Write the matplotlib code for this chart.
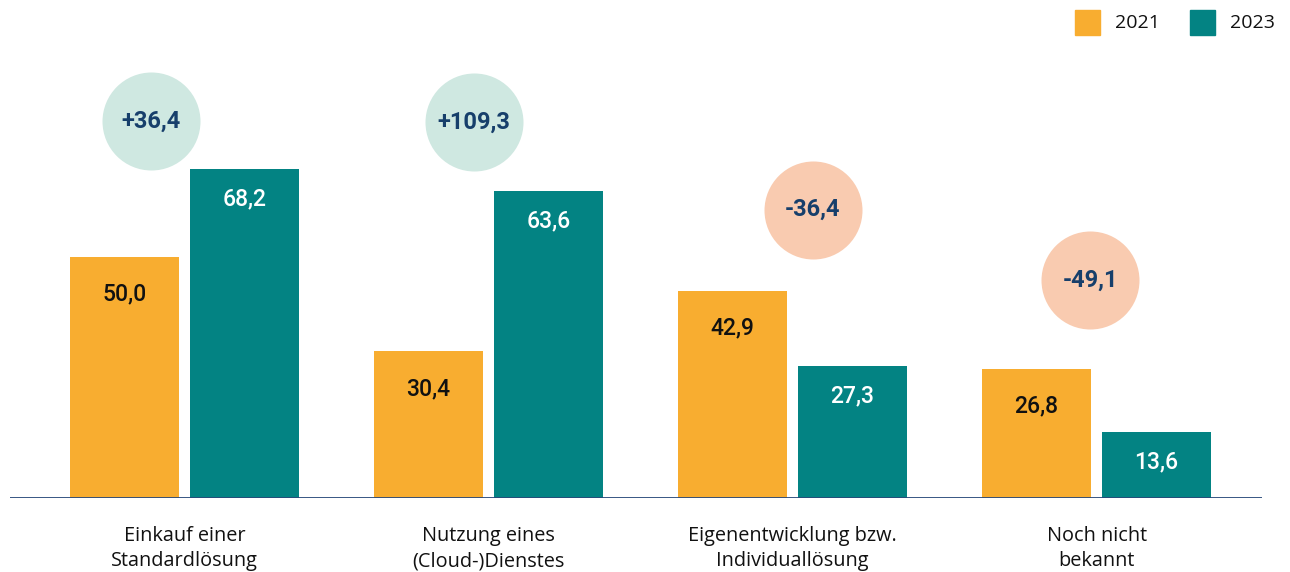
import matplotlib
matplotlib.use("Agg")
import matplotlib.pyplot as plt
import numpy as np

# Daten
kategorien = ["Einkauf einer\nStandardlösung", "Nutzung eines\n(Cloud-)Dienstes",
              "Eigenentwicklung bzw.\nIndividuallösung", "Noch nicht\nbekannt"]
werte_2021 = [50.0, 30.4, 42.9, 26.8]
werte_2023 = [68.2, 63.6, 27.3, 13.6]
veraenderung = [36.4, 109.3, -36.4, -49.1]

# Lage der Kreise (Versatz zur Gruppenmitte, Höhe)
kreis_dx = [-0.110, -0.048, 0.067, -0.021]
kreis_y = [78.2, 78.0, 59.8, 45.2]

orange = "#F8AD30"
petrol = "#038383"
gruen_hell = "#CFE8E1"
lachs = "#F9CBB0"
navy = "#173F6B"

def de(v, plus=False):
    s = f"{v:+.1f}" if plus else f"{v:.1f}"
    return s.replace(".", ",")

fig = plt.figure(figsize=(12.9, 5.72), dpi=100)
ax = fig.add_axes([10 / 1290, 1 - 498 / 572, 1252 / 1290, 498 / 572])

x = np.arange(len(kategorien))
breite = 109 / 304
off = 60 / 304

b1 = ax.bar(x - off, werte_2021, breite, color=orange, zorder=2)
b2 = ax.bar(x + off, werte_2023, breite, color=petrol, zorder=2)

for r, v in zip(b1, werte_2021):
    ax.text(r.get_x() + r.get_width() / 2, v - 7.7, de(v), ha="center", va="center",
            fontsize=16.5, fontfamily="Roboto", fontweight="medium", color="#111111")
for r, v in zip(b2, werte_2023):
    ax.text(r.get_x() + r.get_width() / 2, v - 6.2, de(v), ha="center", va="center",
            fontsize=16.5, fontfamily="Roboto", fontweight="medium", color="white")

for i, d in enumerate(veraenderung):
    farbe = gruen_hell if d > 0 else lachs
    ax.scatter(x[i] + kreis_dx[i], kreis_y[i], s=4980, color=farbe, linewidths=0, zorder=3)
    ax.text(x[i] + kreis_dx[i], kreis_y[i], de(d, plus=d > 0), ha="center", va="center",
            fontsize=17, fontfamily="Roboto", fontweight="bold", color=navy, zorder=4)

ax.set_xlim(-0.574, 3.544)
ax.set_ylim(0, 498 / 4.82)
ax.axhline(0, color="#28497A", lw=1.3, zorder=3)

ax.set_xticks(x)
ax.set_xticklabels(kategorien, fontsize=14.3, fontfamily="Open Sans", color="#111111",
                   linespacing=1.35)
ax.tick_params(axis="x", length=0, pad=20)
ax.set_yticks([])
for s in ax.spines.values():
    s.set_visible(False)

# Legende
for px, farbe, jahr in [(1075, orange, "2021"), (1190, petrol, "2023")]:
    fig.patches.append(plt.Rectangle((px / 1290, 1 - 35 / 572), 25 / 1290, 25 / 572,
                                     color=farbe, transform=fig.transFigure))
    fig.text((px + 40) / 1290, 1 - 23 / 572, jahr, ha="left", va="center",
             fontsize=14, fontfamily="Open Sans", color="#111111")

fig.savefig("out.png", dpi=100)
